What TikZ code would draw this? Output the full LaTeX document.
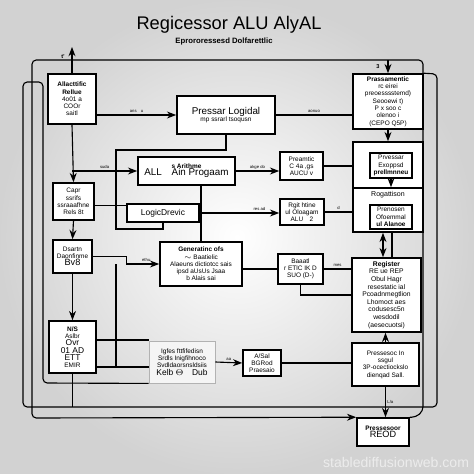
\documentclass[tikz,border=0pt]{standalone}
\usepackage{fontspec}
\setmainfont{Liberation Sans}
\usetikzlibrary{arrows.meta,positioning}

\begin{document}
\begin{tikzpicture}[x=0.025cm, y=-0.025cm, >=Stealth,
        blk/.style={draw, line width=1.1pt, fill=white, inner sep=1pt, align=center, font=\fontsize{4.6}{5.2}\selectfont},
        wire/.style={line width=0.8pt},
        lbl/.style={font=\fontsize{3}{3}\selectfont, inner sep=1pt}]
        % Background
        \useasboundingbox (0,0) rectangle (474,474);
        \shade[inner color=white, outer color=gray!35] (0,0) rectangle (474,474);

        % Title
        \node[font=\fontsize{13}{15}\selectfont] (title) at (229,25) {Regicessor ALU AlyAL};
        \node[font=\bfseries\fontsize{5.5}{6}\selectfont] (subtitle) at (224,41) {Eprororessesd Dolfarettlic};

        % Left column
        \node[blk, minimum width=1.2cm, minimum height=1.25cm] (allac) at (72,99) {\textbf{Allacttific}\\\textbf{Rellue}\\4o01 a\\COOr\\saitl};
        \node[blk, minimum width=1.025cm, minimum height=0.925cm] (capr) at (73.5,201.5) {Capr\\ssrifs\\ssraaafhne\\Rels 8t};
        \node[blk, minimum width=0.975cm, minimum height=0.825cm] (dsartn) at (72.5,256.5) {Dsartn\\Daonfinme\\{\fontsize{6.5}{7}\selectfont Bv8}};
        \node[blk, minimum width=1.175cm, minimum height=1.3cm] (nsa) at (72.5,347) {\textbf{N/S}\\Aslbr\\{\fontsize{6}{6.5}\selectfont Ovr}\\{\fontsize{6}{6.5}\selectfont 01 AD}\\{\fontsize{6}{6.5}\selectfont ETT}\\EMIR};

        % Middle
        \node[blk, minimum width=2.45cm, minimum height=0.95cm] (plog) at (226,115) {{\fontsize{7}{8}\selectfont Pressar Logidal}\\mp ssrarl tsoqusn};
        \node[blk, minimum width=2.425cm, minimum height=0.7cm] (arith) at (186.5,171) {\textbf{s Arithme}\\{\fontsize{7}{8}\selectfont ALL\quad Ain Progaam}};
        \node[blk, minimum width=1.8cm, minimum height=0.45cm] (logic) at (163,213) {{\fontsize{6}{7}\selectfont LogicDrevic}};
        \node[blk, minimum width=2.05cm, minimum height=1.1cm] (gen) at (201,264) {\textbf{Generatinc ofs}\\$\sim$ Baatielic\\Alaeuns dictiotcc sais\\ipsd aUsUs Jsaa\\b Alais sai};
        \node[blk, minimum width=1.075cm, minimum height=0.7cm] (pream) at (301.5,166) {Preamtic\\C 4a ,gs\\AUCU v};
        \node[blk, minimum width=1.1cm, minimum height=0.65cm] (rgit) at (302,212) {Rgit htine\\ul Oloagam\\ALU\quad 2};
        \node[blk, minimum width=1.125cm, minimum height=0.75cm] (baaatl) at (300.5,269) {Baaatl\\r ETlC IK D\\SUO (D-)};
        \node[blk, draw=gray!60, fill=gray!8, line width=0.6pt, minimum width=1.65cm, minimum height=1.05cm] (hyper) at (182,362) {Igfes fttfifedisn\\Srdls Inigfihnoco\\Svdldaorsnsldsiis\\{\fontsize{6}{7}\selectfont Kelb $\Theta$\quad Dub}};
        \node[blk, minimum width=0.95cm, minimum height=0.65cm] (asal) at (262,363) {A/Sal\\BGRod\\Praesaio};

        % Right column
        \node[blk, minimum width=1.75cm, minimum height=1.375cm] (prsm) at (388,101.5) {\textbf{Prassamentic}\\rc eirei\\preoesssstemd)\\Seooewi t)\\P x soo c\\olenoo i\\(CEPO Q5P)};
        \node[blk, minimum width=1.75cm, minimum height=1.15cm] (out4) at (388,165) {};
        \node[blk, line width=0.8pt, minimum width=1.05cm, minimum height=0.625cm] (in4) at (391,165.5) {Prvessar\\Exoppsd\\\textbf{prellmnneu}};
        \node[blk, minimum width=1.75cm, minimum height=1.1cm] (out5) at (388,210) {};
        \node[font=\fontsize{5}{6}\selectfont] (rogl) at (388,195) {Rogattison};
        \node[blk, line width=0.8pt, minimum width=1.05cm, minimum height=0.6cm] (in5) at (391,217) {Prenosen\\Ofoemmal\\\textbf{ul Alanoe}};
        \node[blk, font=\fontsize{4.8}{5.4}\selectfont, minimum width=1.725cm, minimum height=1.85cm] (reg) at (386.5,295) {\textbf{Register}\\RE ue REP\\Obul Hagr\\resestatic ial\\Pcoadnmegtlion\\Lhomoct aes\\codusesc5n\\wesdodil\\(aesecuotsi)};
        \node[blk, minimum width=1.675cm, minimum height=1.075cm] (pin) at (385.5,364.5) {Pressesoc In\\ssgul\\3P-ocectiockslo\\dienqad Sall.};
        \node[blk, minimum width=1.3cm, minimum height=0.7cm] (reod) at (383,432) {\textbf{Pressesoor}\\{\fontsize{6.5}{7}\selectfont REOD}};

        % Frame corners
        \coordinate (ftl) at (32,60);
        \coordinate (ftr) at (423,60);
        \coordinate (fbl) at (32,418);
        \coordinate (fbr) at (423,411);
        \coordinate (gtr) at (437,74);
        \coordinate (gbr) at (437,407);
        \coordinate (gbl) at (23,407);
        \coordinate (gtl) at (23,82);
        \coordinate (htl) at (43,82);
        \coordinate (hbl) at (43,383);
        \coordinate (tip) at (72,47);
        \coordinate (lp1) at (116,150);
        \coordinate (lp2) at (116,229);
        \coordinate (lp3) at (116,367);

        % Frame wires
        \draw[wire, rounded corners=3pt, ->] (reod.north east) -- ++(6,0) -- (fbr) -- (ftr) -- (ftl) -- (fbl) -- (reod.north west);
        \draw[wire, rounded corners=3pt] (prsm.north east) -- (gtr) -- (gbr) -- (gbl) -- (gtl) -- (htl) -- (hbl) -- (hyper.south west);
        \draw[wire, ->] (allac.north) -- (tip);
        \node[lbl, font=\bfseries\fontsize{4}{4}\selectfont] at (63,57) {t'};
        \draw[wire, ->] (prsm.north |- ftr) -- (prsm.north);
        \node[lbl, font=\bfseries\fontsize{4}{4}\selectfont] at (378,67) {3};
        \draw[wire] (nsa.south) -- (nsa.south |- gbl);

        % Left arrows
        \draw[wire, ->] (allac.east |- plog.west) -- (plog.west) node[lbl, midway, above] {ans\quad u};
        \draw[wire] (plog.east) -- (plog.east -| prsm.west) node[lbl, midway, above] {aonuo};
        \draw[wire, ->] (allac.south) -- (capr.north);
        \draw[wire, ->] (allac.south |- arith.west) -- (arith.west) node[lbl, midway, above] {suda};
        \draw[wire, ->] (capr.south) -- (dsartn.north);
        \draw[wire, ->] (dsartn.south) -- (nsa.north);
        \draw[wire] (plog.south) |- (lp1) -- (lp2) -| (logic.south);
        \draw[wire] ([yshift=-0.1cm]capr.east) -- ([yshift=-0.1cm]capr.east -| logic.west);
        \draw[wire, ->] (dsartn.east) -- ++(34,0) |- (gen.west) node[lbl, pos=0.8, above] {ethu};
        \draw[wire] (gen.west -| lp3) -- (lp3);
        \draw[wire] (nsa.east |- lp3) -- (hyper.west |- lp3);
        \draw[wire] ([yshift=0.175cm]nsa.east) -- ([yshift=0.175cm]nsa.east -| hyper.west);

        % Middle arrows
        \draw[wire, ->] (arith.east) -- (arith.east -| pream.west) node[lbl, midway, above] {akge do};
        \draw[wire] (pream.east) -- (pream.east -| out4.west);
        \draw[wire] (arith.south -| gen.north) -- (gen.north);
        \draw[wire, ->] (logic.east) -- (logic.east -| rgit.west) node[lbl, pos=0.75, above] {res ad};
        \draw[wire] (rgit.east) -- (rgit.east -| out5.west) node[lbl, midway, above] {d};
        \draw[wire] (gen.east |- baaatl.west) -- (baaatl.west);
        \draw[wire] (baaatl.east) -- (baaatl.east -| reg.west) node[lbl, midway, above] {mes};
        \draw[wire] (baaatl.south) |- (reg.west);
        \draw[wire, ->] (hyper.east) -- (asal.west) node[lbl, midway, above] {aa};
        \draw[wire] (asal.east) -- (asal.east -| pin.west);

        % Right arrows
        \draw[wire, ->] (prsm.south) -- (out4.north);
        \draw[wire, ->] (in4.south) -- (in4.south |- out5.north);
        \draw[wire, <->] ([xshift=-0.125cm]out5.south) -- ([xshift=-0.125cm]out5.south |- reg.north);
        \draw[wire] ([xshift=0.1cm]out5.south) -- ([xshift=0.1cm]out5.south |- reg.north);
        \draw[wire, ->] (pin.north) -- (pin.north |- reg.south);
        \draw[wire, ->] (pin.south) -- (pin.south |- reod.north) node[lbl, midway, right] {L/a};

        % Watermark
        \node[anchor=east, text=white!85!gray, font=\fontsize{10}{12}\selectfont] (wm) at (474,462) {stablediffusionweb.com};
    \end{tikzpicture}
\end{document}
